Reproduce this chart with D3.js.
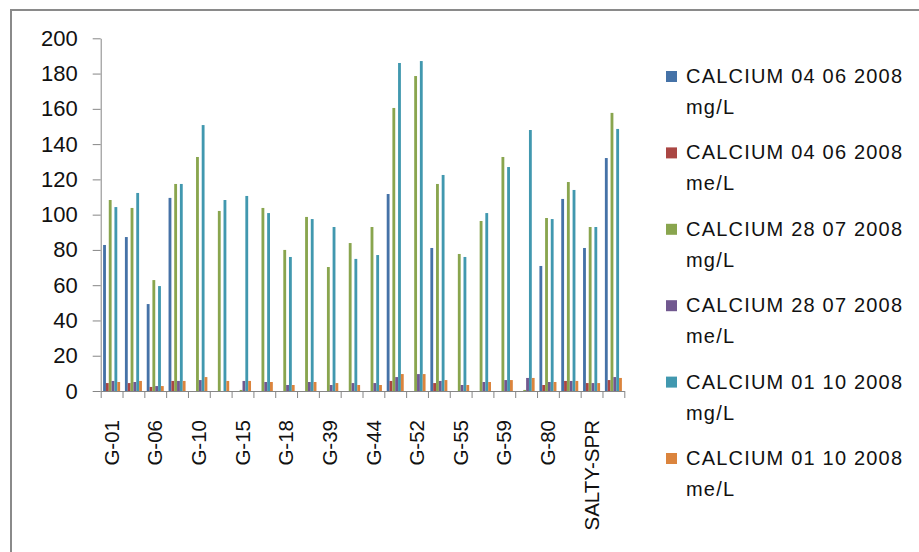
<!DOCTYPE html>
<html>
<head>
<meta charset="utf-8">
<script src="https://cdn.jsdelivr.net/npm/d3@7"></script>
<style>
  body { margin: 0; background: #fff; }
  svg { display: block; font-family: "Liberation Sans", Arial, sans-serif; }
</style>
</head>
<body>
<div id="chart"></div>
<script>
// sites along the x axis (only every other label is printed on the chart)
const categories = ["G-01", null, "G-06", null, "G-10", null, "G-15", null, "G-18", null, "G-39", null,
                    "G-44", null, "G-52", null, "G-55", null, "G-59", null, "G-80", null, "SALTY-SPR", null];

const seriesNames = [
  ["CALCIUM 04 06 2008", "mg/L"],
  ["CALCIUM 04 06 2008", "me/L"],
  ["CALCIUM 28 07 2008", "mg/L"],
  ["CALCIUM 28 07 2008", "me/L"],
  ["CALCIUM 01 10 2008", "mg/L"],
  ["CALCIUM 01 10 2008", "me/L"]
];
const colors = ["#4572A7", "#AA4643", "#89A54E", "#71588F", "#4198AF", "#DB843D"];

const ca0406mg = [82.8, 87.3, 49.3, 109.5, 0, 0, 0, 0, 0, 0, 0, 0, 0, 111.7, 0, 81.1, 0, 0, 0, 0, 70.9, 108.9, 81.1, 132.1];
const ca0406me = [4.5, 4.5, 2.3, 5.7, 0, 0, 0, 0, 0, 0, 0, 0, 0, 5.7, 0, 4.5, 0, 0, 0, 0, 3.4, 5.7, 4.5, 6.2];
const ca2807mg = [108.3, 103.8, 62.9, 117.4, 132.7, 102.1, 0.6, 103.8, 80, 98.7, 70.3, 83.9, 93, 160.5, 178.6, 117.4, 77.7, 96.4, 132.7, 0.6, 98.1, 118.5, 93, 157.7];
const ca2807me = [5.7, 5.1, 2.8, 5.7, 6.2, 0, 5.7, 5.1, 3.4, 5.1, 3.4, 4.5, 4.5, 7.9, 9.6, 5.7, 3.4, 5.1, 6.2, 7.4, 5.1, 5.7, 4.5, 7.9];
const ca0110mg = [104.3, 112.3, 59.5, 117.4, 150.8, 108.3, 110.6, 100.9, 76, 97.5, 93, 74.9, 77.1, 186, 187.1, 122.5, 76, 100.9, 127, 148, 97.5, 114, 93, 148.6];
const ca0110me = [5.1, 5.7, 2.8, 5.7, 7.9, 5.7, 5.7, 5.1, 3.4, 5.1, 4.5, 3.4, 3.4, 9.6, 9.6, 6.2, 3.4, 5.1, 6.2, 7.4, 5.1, 5.7, 4.5, 7.4];

const yTicks = [0, 20, 40, 60, 80, 100, 120, 140, 160, 180, 200];

const series = [ca0406mg, ca0406me, ca2807mg, ca2807me, ca0110mg, ca0110me];

// layout
const width = 919, height = 552;
const plot = {left: 100.7, right: 624.3, top: 38.3, bottom: 391};
const axisColor = "#868686";

const svg = d3.select("#chart").append("svg")
    .attr("width", width)
    .attr("height", height);

// outer chart frame (only left and top edges visible)
svg.append("rect")
    .attr("x", 11).attr("y", 10)
    .attr("width", 1000).attr("height", 1000)
    .attr("fill", "#fff")
    .attr("stroke", "#8a8a8a")
    .attr("stroke-width", 2);

const idx = d3.range(categories.length);

let x0 = d3.scaleBand()
    .domain(idx)
    .range([plot.left, plot.right])
    .paddingInner(0.22)
    .paddingOuter(0.11);
let x1 = d3.scaleBand()
    .domain(d3.range(series.length))
    .range([0, x0.bandwidth()]);
let y = d3.scaleLinear()
    .domain([0, 200])
    .range([plot.bottom, plot.top]);
// boundaries between categories for the x tick marks
let xEdge = d3.scaleLinear()
    .domain([0, categories.length])
    .range([plot.left, plot.right]);

// bars
svg.append("g").selectAll("g")
  .data(idx)
  .join("g")
    .attr("transform", i => `translate(${x0(i)},0)`)
  .selectAll("rect")
  .data(i => series.map((s, k) => ({k: k, v: s[i]})))
  .join("rect")
    .attr("x", d => x1(d.k))
    .attr("width", x1.bandwidth())
    .attr("y", d => y(d.v))
    .attr("height", d => y(0) - y(d.v))
    .attr("fill", d => colors[d.k]);

// y axis
const yAxis = svg.append("g")
    .attr("transform", `translate(${plot.left},0)`)
    .call(d3.axisLeft(y).tickValues(yTicks).tickSize(8).tickPadding(15).tickSizeOuter(0));
yAxis.select(".domain").attr("stroke", axisColor);
yAxis.selectAll(".tick line").attr("stroke", axisColor);
yAxis.selectAll(".tick text")
    .attr("fill", "#111")
    .style("font-size", "22px");

// x axis line + tick marks at category boundaries
const xTicks = svg.append("g")
    .attr("transform", `translate(0,${plot.bottom})`)
    .call(d3.axisBottom(xEdge).tickValues(d3.range(categories.length + 1)).tickSize(7).tickFormat("").tickSizeOuter(0));
xTicks.select(".domain").attr("stroke", axisColor);
xTicks.selectAll(".tick line").attr("stroke", axisColor);

// x labels, rotated
const xLabels = svg.append("g")
    .attr("transform", `translate(0,${plot.bottom})`)
    .call(d3.axisBottom(x0).tickSize(0).tickFormat(i => categories[i] || ""));
xLabels.select(".domain").remove();
xLabels.selectAll(".tick text")
    .attr("transform", "translate(0,29) rotate(-90)")
    .attr("x", 0)
    .attr("y", 0)
    .attr("dy", "0.35em")
    .attr("text-anchor", "end")
    .attr("fill", "#111")
    .style("font-size", "20.5px");

// legend
const legend = svg.append("g").selectAll("g")
  .data(seriesNames)
  .join("g")
    .attr("transform", (d, i) => `translate(666,${83 + i * 76.4})`);
legend.append("rect")
    .attr("x", 0).attr("y", -12)
    .attr("width", 11).attr("height", 11)
    .attr("fill", (d, i) => colors[i]);
legend.append("text")
    .attr("x", 20).attr("y", 0)
    .style("font-size", "20px")
    .style("letter-spacing", "1.2px")
    .attr("fill", "#111")
    .text(d => d[0]);
legend.append("text")
    .attr("x", 20).attr("y", 31)
    .style("font-size", "20px")
    .style("letter-spacing", "1.2px")
    .attr("fill", "#111")
    .text(d => d[1]);
</script>
</body>
</html>
